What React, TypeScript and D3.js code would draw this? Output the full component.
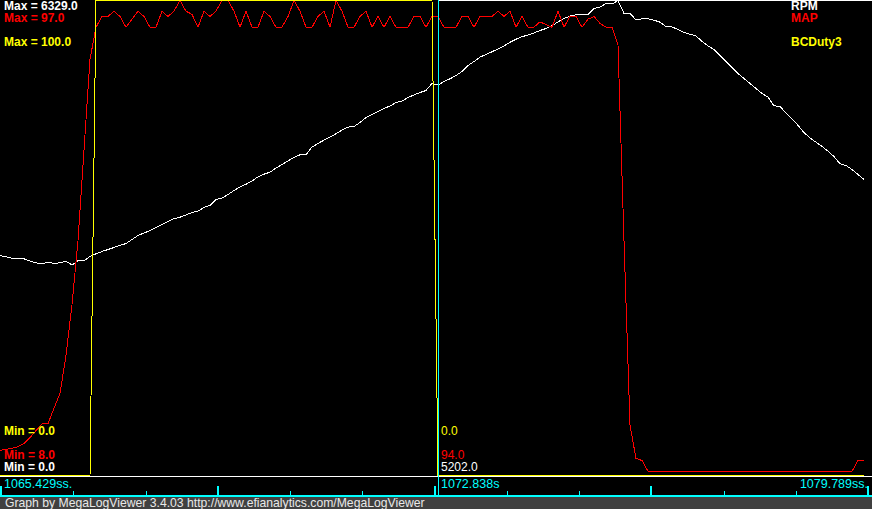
import React, { useEffect, useRef } from 'react';
import * as d3 from 'd3';

// one sample every record, ~10 Hz log
const rpm = [
  2931, 2914, 2895, 2887, 2887, 2858, 2834, 2821, 2842, 2825,
  2834, 2855, 2805, 2861, 2861, 2918, 2954, 2985, 3011, 3038,
  3065, 3091, 3145, 3198, 3231, 3264, 3304, 3344, 3384, 3422,
  3442, 3471, 3504, 3524, 3571, 3598, 3678, 3698, 3744, 3797,
  3843, 3881, 3924, 3980, 4015, 4041, 4096, 4144, 4192, 4237,
  4273, 4273, 4377, 4424, 4469, 4508, 4553, 4602, 4642, 4650,
  4703, 4770, 4810, 4850, 4890, 4923, 4970, 4990, 5037, 5070,
  5103, 5130, 5223, 5202, 5250, 5286, 5330, 5383, 5463, 5516,
  5574, 5610, 5646, 5683, 5723, 5772, 5813, 5847, 5868, 5896,
  5929, 5956, 5992, 6045, 6089, 6122, 6138, 6145, 6142, 6222,
  6240, 6289, 6282, 6329, 6156, 6160, 6069, 6085, 6085, 6067,
  6040, 5983, 5976, 5943, 5903, 5880, 5856, 5785, 5723, 5676,
  5596, 5516, 5436, 5356, 5290, 5223, 5156, 5090, 5043, 4926,
  4917, 4830, 4750, 4666, 4570, 4497, 4441, 4386, 4321, 4250,
  4153, 4131, 4077, 4011, 3944
];

const map = [
  12.7, 12.9, 13.1, 13.4, 14.0, 15.1, 16.4, 17.7, 17.7, 20.6,
  23.4, 30.5, 40, 52, 69, 86, 92, 94, 94, 95,
  94, 92, 93.5, 95, 94, 92, 92, 95, 94, 95,
  97, 95, 94.4, 92, 95, 94, 95, 97, 97, 95,
  92, 95, 92, 92, 95, 94, 92, 92, 94, 97,
  95, 92, 92, 94, 95, 92, 97, 95, 92, 92,
  94, 95, 92, 94, 92, 94, 92, 92, 92, 94,
  94, 92, 94, 94, 92, 92, 92, 94, 94, 92,
  94, 94, 94, 95, 94, 95, 92, 94, 92, 92,
  93, 92.5, 92, 95, 92, 94, 94, 92, 93.5, 94,
  92.7, 92, 92, 88.6, 52, 17.4, 11.2, 10.8, 8.8, 8.8,
  8.8, 8.8, 8.8, 8.8, 8.8, 8.8, 8.8, 8.8, 8.8, 8.8,
  8.8, 8.8, 8.8, 8.8, 8.8, 8.8, 8.8, 8.8, 8.8, 8.8,
  8.8, 8.8, 8.8, 8.8, 8.8, 8.8, 8.8, 8.8, 8.8, 8.8,
  8.8, 8.8, 8.8, 10.8, 10.8
];

const bcDuty3 = [
  0, 0, 0, 0, 0, 0, 0, 0, 0, 0, 0, 0, 0, 0, 0, 0,
  100, 100, 100, 100, 100, 100, 100, 100, 100, 100,
  100, 100, 100, 100, 100, 100, 100, 100, 100, 100,
  100, 100, 100, 100, 100, 100, 100, 100, 100, 100,
  100, 100, 100, 100, 100, 100, 100, 100, 100, 100,
  100, 100, 100, 100, 100, 100, 100, 100, 100, 100,
  100, 100, 100, 100, 100, 100, 100,
  0, 0, 0, 0, 0, 0, 0, 0, 0, 0, 0, 0, 0, 0, 0, 0, 0, 0,
  0, 0, 0, 0, 0, 0, 0, 0, 0, 0, 0, 0, 0, 0, 0, 0, 0, 0,
  0, 0, 0, 0, 0, 0, 0, 0, 0, 0, 0, 0, 0, 0, 0, 0, 0, 0,
  0, 0, 0, 0, 0, 0, 0, 0, 0, 0, 0, 0, 0, 0, 0, 0, 0, 0
];

const seriesNames = ['RPM', 'MAP', 'BCDuty3'];
const seriesMin = [0, 8, 0];
const seriesMax = [6329, 97, 100];
const legendRows = [0, 1, 3]; // MLV leaves a blank row before the 3rd trace

const cursorIndex = 73;
const timeLabels = ['1065.429ss.', '1072.838s', '1079.789ss.'];
const tickCount = 12;
const footer = 'Graph by MegaLogViewer 3.4.03 http://www.efianalytics.com/MegaLogViewer';

const WIDTH = 872;
const HEIGHT = 509;
const FONT = '"Liberation Sans", Arial, sans-serif';

export default function App() {
  const ref = useRef<SVGSVGElement>(null);

  useEffect(() => {
    if (!ref.current) return;
    const svg = d3.select(ref.current);
    svg.selectAll('*').remove();

    const plot = { top: 0.5, bottom: 475.5, left: 0, right: 864 };
    const colors = ['#ffffff', '#ff0000', '#ffff00'];
    const series = [rpm, map, bcDuty3];

    svg.append('rect').attr('width', WIDTH).attr('height', HEIGHT).attr('fill', '#000');

    const x = d3.scaleLinear().domain([0, rpm.length - 1]).range([plot.left, plot.right]);
    const cx = Math.round(x(cursorIndex));

    // top edge right of the cursor
    svg
      .append('line')
      .attr('x1', cx)
      .attr('x2', WIDTH)
      .attr('y1', 0.5)
      .attr('y2', 0.5)
      .attr('stroke', '#fff');

    series.forEach((values, s) => {
      const y = d3
        .scaleLinear()
        .domain([seriesMin[s], seriesMax[s]])
        .range([plot.bottom, plot.top]);
      const line = d3
        .line<number>()
        .x((_, i) => x(i))
        .y(d => y(d));
      svg
        .append('path')
        .datum(values)
        .attr('d', line)
        .attr('fill', 'none')
        .attr('stroke', colors[s])
        .attr('stroke-width', 1)
        .attr('shape-rendering', 'crispEdges');
    });

    // separator between plot and time strip
    svg
      .append('line')
      .attr('x1', 0)
      .attr('x2', WIDTH)
      .attr('y1', 476.5)
      .attr('y2', 476.5)
      .attr('stroke', '#fff');

    const text = (t: string, tx: number, ty: number, color: string, bold: boolean) =>
      svg
        .append('text')
        .attr('x', tx)
        .attr('y', ty)
        .attr('fill', color)
        .style('font-family', FONT)
        .style('font-size', '12px')
        .style('font-weight', bold ? 700 : 400)
        .text(t);

    const rowH = 12;

    series.forEach((values, s) => {
      const r = legendRows[s];
      text(`Max = ${seriesMax[s].toFixed(1)}`, 4, 10 + r * rowH, colors[s], true);
      text(`Min = ${seriesMin[s].toFixed(1)}`, 4, 471 - r * rowH, colors[s], true);
      text(seriesNames[s], 791, 10 + r * rowH, colors[s], true);
      text(values[cursorIndex].toFixed(1), cx + 3, 471 - r * rowH, colors[s], false);
    });

    // time strip
    const cyan = '#00ffff';
    const tx = d3.scaleLinear().domain([0, tickCount]).range([1, 868]);
    svg
      .append('g')
      .selectAll('rect')
      .data(d3.range(tickCount + 1))
      .join('rect')
      .attr('x', d => Math.round(tx(d)) - (d % 3 === 0 ? 1 : 0))
      .attr('width', d => (d % 3 === 0 ? 2 : 1))
      .attr('y', d => (d % 3 === 0 ? 486 : 491))
      .attr('height', d => (d % 3 === 0 ? 11 : 6))
      .attr('fill', cyan);

    svg
      .append('rect')
      .attr('x', 0)
      .attr('y', 495)
      .attr('width', WIDTH)
      .attr('height', 2)
      .attr('fill', cyan);

    text(timeLabels[0], 4, 488, cyan, false).style('font-size', '12.5px');
    text(timeLabels[1], cx + 3, 488, cyan, false).style('font-size', '12.5px');
    text(timeLabels[2], 868, 488, cyan, false)
      .style('font-size', '12.5px')
      .attr('text-anchor', 'end');

    // cursor
    svg
      .append('line')
      .attr('x1', cx + 0.5)
      .attr('x2', cx + 0.5)
      .attr('y1', 0)
      .attr('y2', 497)
      .attr('stroke', cyan);

    // footer
    svg
      .append('rect')
      .attr('x', 0)
      .attr('y', 497)
      .attr('width', WIDTH)
      .attr('height', HEIGHT - 497)
      .attr('fill', '#404040');
    text(footer, 5, 507, '#e8e8e8', false).style('font-size', '12.2px');
  }, []);

  return (
    <svg
      ref={ref}
      width={WIDTH}
      height={HEIGHT}
      style={{ position: 'fixed', left: 0, top: 0, display: 'block' }}
    />
  );
}
